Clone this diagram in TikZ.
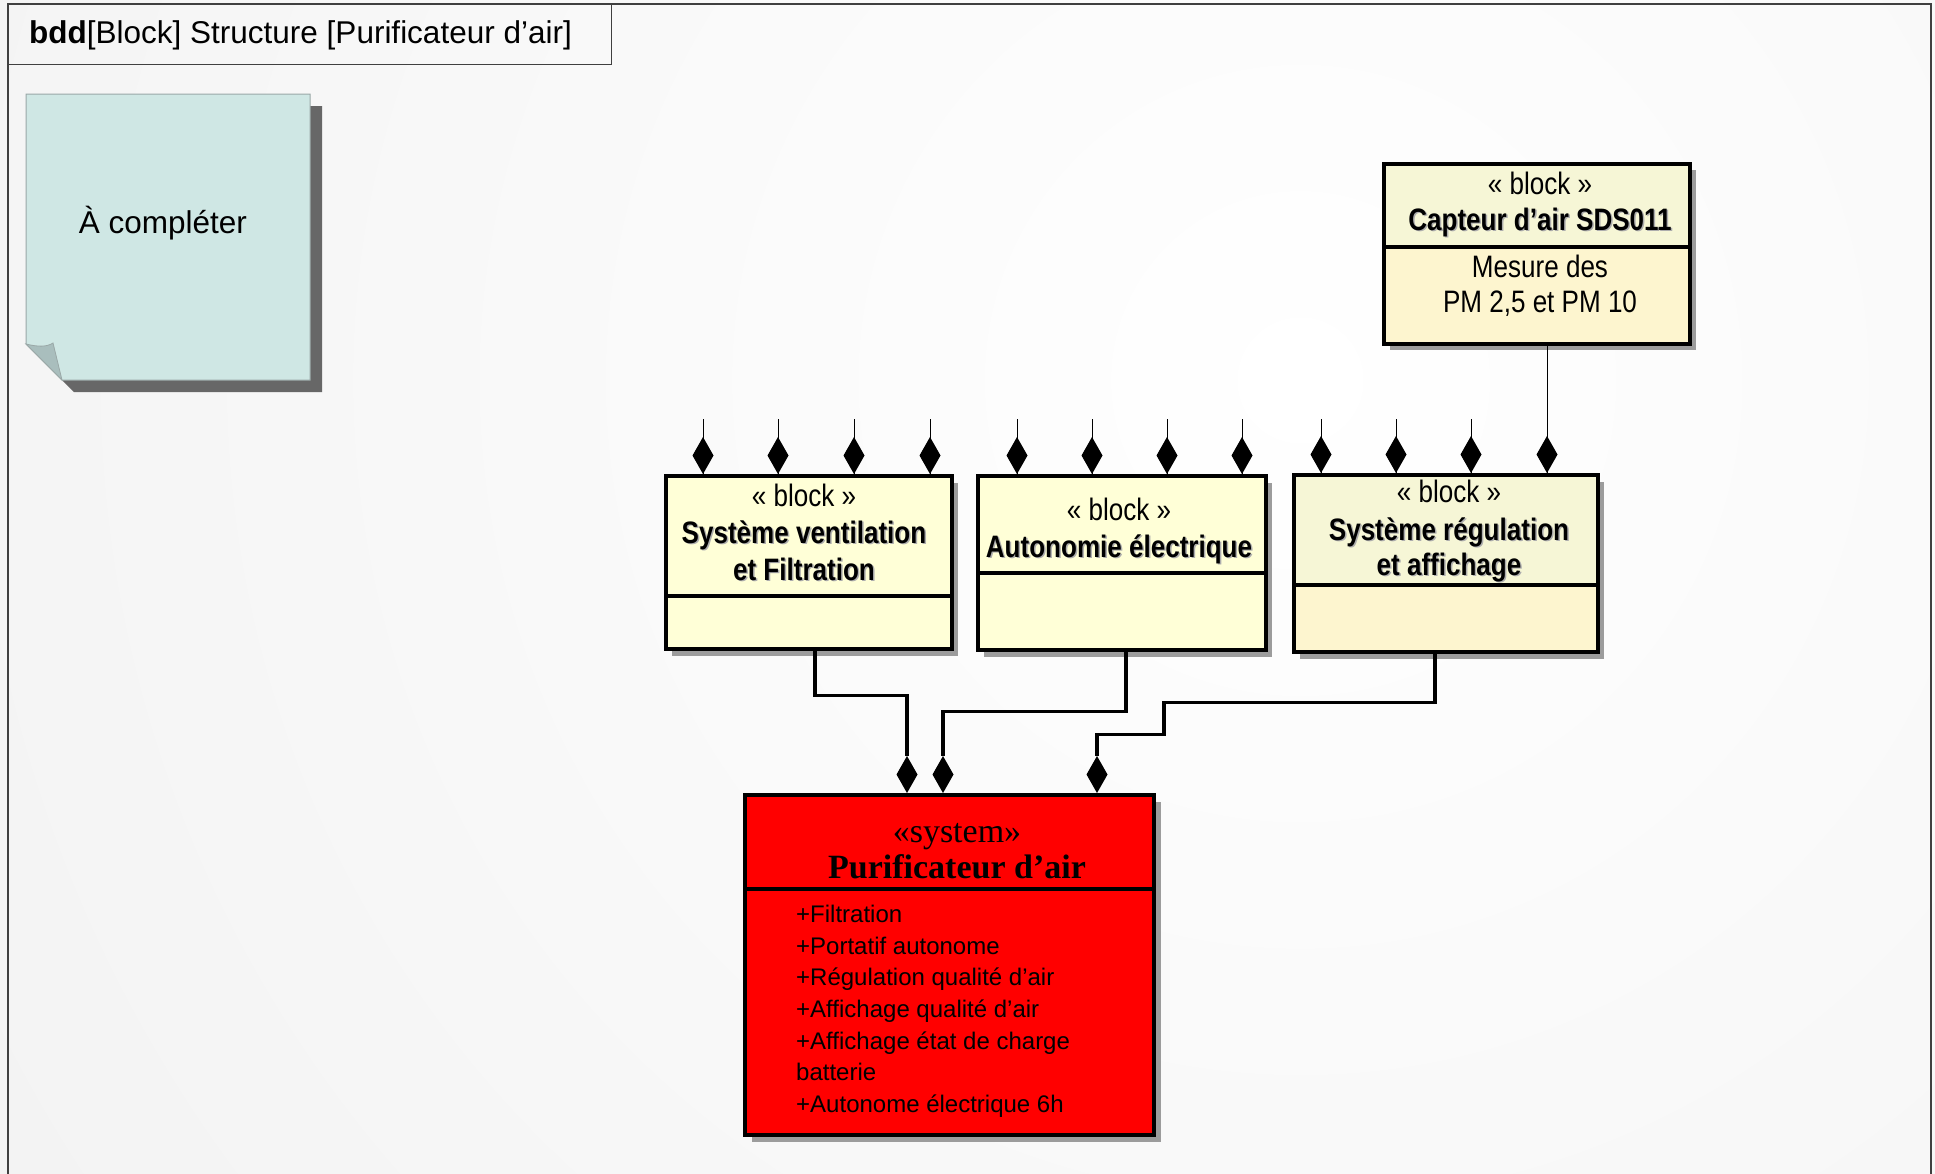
\documentclass[tikz,border=0pt]{standalone}
\usepackage{fontspec}
\setmainfont{Liberation Sans}
\newfontfamily\serifface{Liberation Serif}
\newfontfamily\narrowsans[FakeStretch=0.84]{Liberation Sans}
\usetikzlibrary{calc}

\definecolor{bgc}{HTML}{ECECEC}
\definecolor{framec}{HTML}{404040}
\definecolor{blockfill}{HTML}{FFFFD7}
\definecolor{headfill}{HTML}{F6F6D6}
\definecolor{bodyfill}{HTML}{FDF5CF}
\definecolor{notefill}{HTML}{CFE7E4}
\definecolor{noteedge}{HTML}{9AA8A7}
\definecolor{noteflap}{HTML}{A9BEBD}
\definecolor{noteshadow}{HTML}{676767}
\definecolor{boxshadow}{HTML}{9C9C9C}
\definecolor{sysred}{HTML}{FF0000}

\newcommand\titlesize{\fontsize{31.5}{38}\selectfont}
\newcommand\blocksize{\narrowsans\fontsize{31}{37}\selectfont}
\newcommand\attrsize{\fontsize{24}{29}\selectfont}
\newcommand\syssize{\fontsize{34}{40}\selectfont}

% composition diamond whose lower tip sits on the given point
\newcommand\compdiamond[1]{\fill (#1) -- ++(10.5,-18.5) -- ++(-10.5,-18.5) -- ++(-10.5,18.5) -- cycle;}

\tikzset{
  blockbox/.style={draw=black, line width=3.5pt, inner sep=0pt, anchor=north west},
  divider/.style={line width=3.5pt},
  stereo/.style={anchor=base, inner sep=0pt, font=\blocksize},
  bname/.style={anchor=base, inner sep=0pt, font=\blocksize\bfseries},
  bnamesh/.style={bname, text=black!32},
  stub/.style={line width=1pt},
  conn/.style={line width=3.5pt, line join=miter},
  attr/.style={anchor=base west, inner sep=0pt, font=\attrsize},
}

\begin{document}
\begin{tikzpicture}[x=1pt,y=-1pt]
\useasboundingbox (0,0) rectangle (1935,1173);

% background
\begin{scope}
  \clip (0,0) rectangle (1935,1173);
  \fill[bgc] (0,0) rectangle (1935,1173);
  \shade[inner color=white, outer color=bgc] (1300,380) circle (2400pt);
\end{scope}

% diagram frame and heading
\draw[framec, line width=2pt] (8,1185) -- (8,4) -- (1931,4) -- (1931,1185);
\node[draw=framec, line width=1.2pt, anchor=north west, minimum width=603pt,
      minimum height=60pt, inner sep=0pt] (titlebox) at (8,4) {};
\node[anchor=base west, inner sep=0pt, font=\titlesize] (title) at (29,43)
  {\textbf{bdd}[Block] Structure [Purificateur d’air]};

% sticky note
\fill[noteshadow] (38,106) -- (322,106) -- (322,392) -- (74,392) -- (38,356) -- cycle;
\draw[fill=notefill, draw=noteedge, line width=1pt]
  (26,94) -- (310,94) -- (310,380) -- (62,380) -- (26,344) -- cycle;
\draw[fill=noteflap, draw=noteedge, line width=0.8pt]
  (26,344) .. controls (38,347) and (47,347) .. (53,343) -- (62,380) -- cycle;
\node[anchor=base, inner sep=0pt, font=\titlesize] (notetext) at (163,233) {À compléter};

% block: Capteur d'air
\fill[boxshadow] (1390,170) rectangle (1696,350);
\fill[bodyfill] (1382,162) rectangle (1688,342);
\fill[headfill] (1382,162) rectangle (1688,247);
\node[blockbox, minimum width=306pt, minimum height=180pt] (capt) at (1382,162) {};
\draw[divider] (1382,247) -- (1688,247);
\node[stereo] (capt-st) at (1540,194) {« block »};
\node[bnamesh] at (1541.5,231.5) {Capteur d’air SDS011};
\node[bname] (capt-name) at (1540,230) {Capteur d’air SDS011};
\node[stereo] (capt-b1) at (1540,277) {Mesure des};
\node[stereo] (capt-b2) at (1540,312) {PM 2,5 et PM 10};

% block: Système ventilation et Filtration
\fill[boxshadow] (672,483) rectangle (958,656);
\node[blockbox, fill=blockfill, minimum width=286pt, minimum height=173pt] (vent) at (664,474) {};
\draw[divider] (664,596) -- (950,596);
\node[stereo] (vent-st) at (804,506) {« block »};
\node[bnamesh] at (805.5,544.5) {Système ventilation};
\node[bname] (vent-n1) at (804,543) {Système ventilation};
\node[bnamesh] at (805.5,581.5) {et Filtration};
\node[bname] (vent-n2) at (804,580) {et Filtration};

% block: Autonomie électrique
\fill[boxshadow] (984,483) rectangle (1272,657);
\node[blockbox, fill=blockfill, minimum width=288pt, minimum height=174pt] (auto) at (976,474) {};
\draw[divider] (976,573) -- (1264,573);
\node[stereo] (auto-st) at (1119,520) {« block »};
\node[bnamesh] at (1120.5,558.5) {Autonomie électrique};
\node[bname] (auto-n1) at (1119,557) {Autonomie électrique};

% block: Système régulation et affichage
\fill[boxshadow] (1300,482) rectangle (1604,659);
\fill[bodyfill] (1292,473) rectangle (1596,650);
\fill[headfill] (1292,473) rectangle (1596,585);
\node[blockbox, minimum width=304pt, minimum height=177pt] (regul) at (1292,473) {};
\draw[divider] (1292,585) -- (1596,585);
\node[stereo] (regul-st) at (1449,502) {« block »};
\node[bnamesh] at (1450.5,541.5) {Système régulation};
\node[bname] (regul-n1) at (1449,540) {Système régulation};
\node[bnamesh] at (1450.5,576.5) {et affichage};
\node[bname] (regul-n2) at (1449,575) {et affichage};

% system block
\fill[boxshadow] (752,802) rectangle (1161,1142);
\node[blockbox, fill=sysred, minimum width=409pt, minimum height=340pt] (sys) at (743,793) {};
\draw[divider] (743,889) -- (1152,889);
\node[anchor=base, inner sep=0pt, font=\syssize\serifface] (sys-st) at (957,842) {«system»};
\node[anchor=base, inner sep=0pt, font=\syssize\serifface\bfseries] (sys-name) at (957,878) {Purificateur d’air};
\node[attr] (a1) at (796,922) {+Filtration};
\node[attr] (a2) at (796,954) {+Portatif autonome};
\node[attr] (a3) at (796,985) {+Régulation qualité d’air};
\node[attr] (a4) at (796,1017) {+Affichage qualité d’air};
\node[attr] (a5) at (796,1049) {+Affichage état de charge};
\node[attr] (a6) at (796,1080) {batterie};
\node[attr] (a7) at (796,1112) {+Autonome électrique 6h};

% composition ports on top of the three blocks
\foreach \i/\px in {1/703,2/778,3/854,4/930} {
  \coordinate (v\i) at (\px,474);
  \draw[stub] (v\i) -- ++(0,-55);
  \compdiamond{v\i}
}
\foreach \i/\px in {1/1017,2/1092,3/1167,4/1242} {
  \coordinate (e\i) at (\px,474);
  \draw[stub] (e\i) -- ++(0,-55);
  \compdiamond{e\i}
}
\foreach \i/\px in {1/1321,2/1396,3/1471} {
  \coordinate (r\i) at (\px,473);
  \draw[stub] (r\i) -- ++(0,-54);
  \compdiamond{r\i}
}
\coordinate (r4) at (1547,473);
\draw[stub] (capt.south -| r4) -- (r4);
\compdiamond{r4}

% compositions of the system
\coordinate (s1) at (907,793);
\coordinate (s2) at (943,793);
\coordinate (s3) at (1097,793);
\draw[conn] ($(vent.south)+(6,0)$) -- ++(0,45) -| ($(s1)+(0,-37)$);
\draw[conn] ($(auto.south)+(4,0)$) -- ++(0,60) -| ($(s2)+(0,-37)$);
\draw[conn] ($(regul.south)+(-11,0)$) -- ++(0,49) -- ++(-271,0) -- ++(0,32) -| ($(s3)+(0,-37)$);
\compdiamond{s1}
\compdiamond{s2}
\compdiamond{s3}
\end{tikzpicture}
\end{document}
